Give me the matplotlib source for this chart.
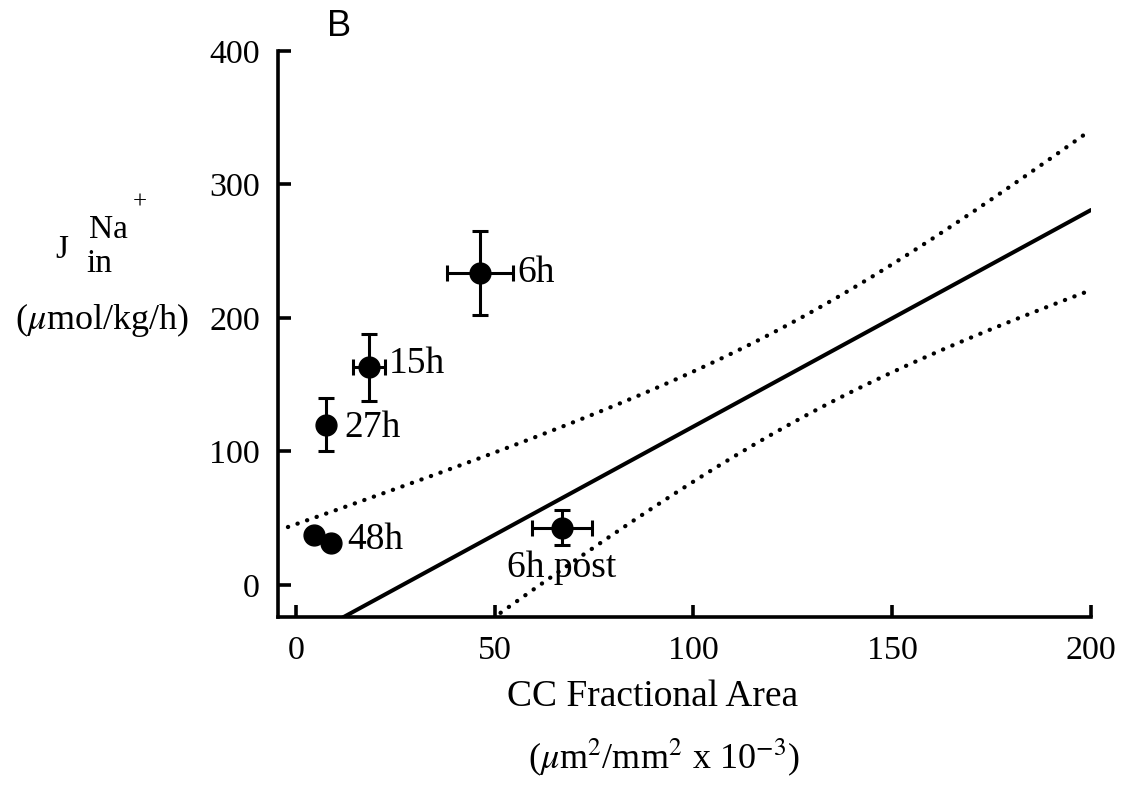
import numpy as np
import matplotlib
matplotlib.use("Agg")
import matplotlib.pyplot as plt

plt.rcParams["mathtext.fontset"] = "stix"

# Sampling times and measured points
labels = ["6h", "15h", "27h", "", "48h", "6h post"]
area = [46.2, 18.4, 7.6, 4.5, 8.8, 66.9]
area_err = [8.3, 4.0, 0.0, 0.0, 0.0, 7.6]
flux = [234.0, 163.0, 120.0, 37.5, 31.5, 42.8]
flux_err = [31.5, 25.0, 20.0, 0.0, 0.0, 13.0]

# Regression line and its confidence band
intercept = -43.5
slope = 1.622
band_center = 126.6
band_a = 1413.0
band_b = 0.406

W, H = 1125, 786
fig = plt.figure(figsize=(W / 100, H / 100), dpi=100)
ax = fig.add_axes([278 / W, 1 - 617 / H, (1091 - 278) / W, (617 - 51) / H])

serif = ["Liberation Serif", "DejaVu Serif"]

x = np.linspace(-2, 200, 400)
fit = intercept + slope * x
half = np.sqrt(band_a + band_b * (x - band_center) ** 2)
ax.plot(x, fit, color="black", lw=2.9, solid_capstyle="round")
dot = (0, (0.05, 2.3))
ax.plot(x, fit + half, color="black", lw=3.1, ls=dot, dash_capstyle="round")
ax.plot(x, fit - half, color="black", lw=3.1, ls=dot, dash_capstyle="round")

ax.errorbar(area, flux, xerr=area_err, yerr=flux_err, fmt="o", color="black",
            ms=15, elinewidth=2.2, capsize=6, capthick=2.2, zorder=5)

offsets = [(38, 0), (20, 4), (18, -3), (0, 0), (16, 3), (0, -40)]
for name, xv, yv, off in zip(labels, area, flux, offsets):
    if not name:
        continue
    ha = "center" if name == "6h post" else "left"
    ax.annotate(name, (xv, yv), xytext=off, textcoords="offset pixels",
                ha=ha, va="center", fontsize=27, family=serif)

ax.set_xlim(-4.5, 200)
ax.set_ylim(-24, 400)
ax.set_xticks([0, 50, 100, 150, 200])
ax.set_yticks([0, 100, 200, 300, 400])
for s in ("top", "right"):
    ax.spines[s].set_visible(False)
for s in ("left", "bottom"):
    ax.spines[s].set_linewidth(2.6)
ax.tick_params(direction="in", length=9, width=2.6, labelsize=24.5, pad=13)
for lab in ax.get_xticklabels() + ax.get_yticklabels():
    lab.set_family(serif)


def px(xp, yp):
    return xp / W, 1 - yp / H


fig.text(*px(653, 697), "CC Fractional Area", ha="center", va="center",
         fontsize=27, family=serif)
fig.text(*px(664, 757), r"($\mu$m$^2$/mm$^2$ x 10$^{-3}$)", ha="center",
         va="center", fontsize=26, family=serif)

fig.text(*px(62, 250), "J", ha="center", va="center", fontsize=24, family=serif)
fig.text(*px(108, 230), "Na", ha="center", va="center", fontsize=24, family=serif)
fig.text(*px(140, 203), "+", ha="center", va="center", fontsize=18, family=serif)
fig.text(*px(99, 264), "in", ha="center", va="center", fontsize=24, family=serif)
fig.text(*px(102, 320), r"($\mu$mol/kg/h)", ha="center", va="center",
         fontsize=26, family=serif)

fig.text(*px(339, 26), "B", ha="center", va="center", fontsize=26,
         family=["Liberation Sans", "DejaVu Sans"])

fig.savefig("out.png", dpi=100)
